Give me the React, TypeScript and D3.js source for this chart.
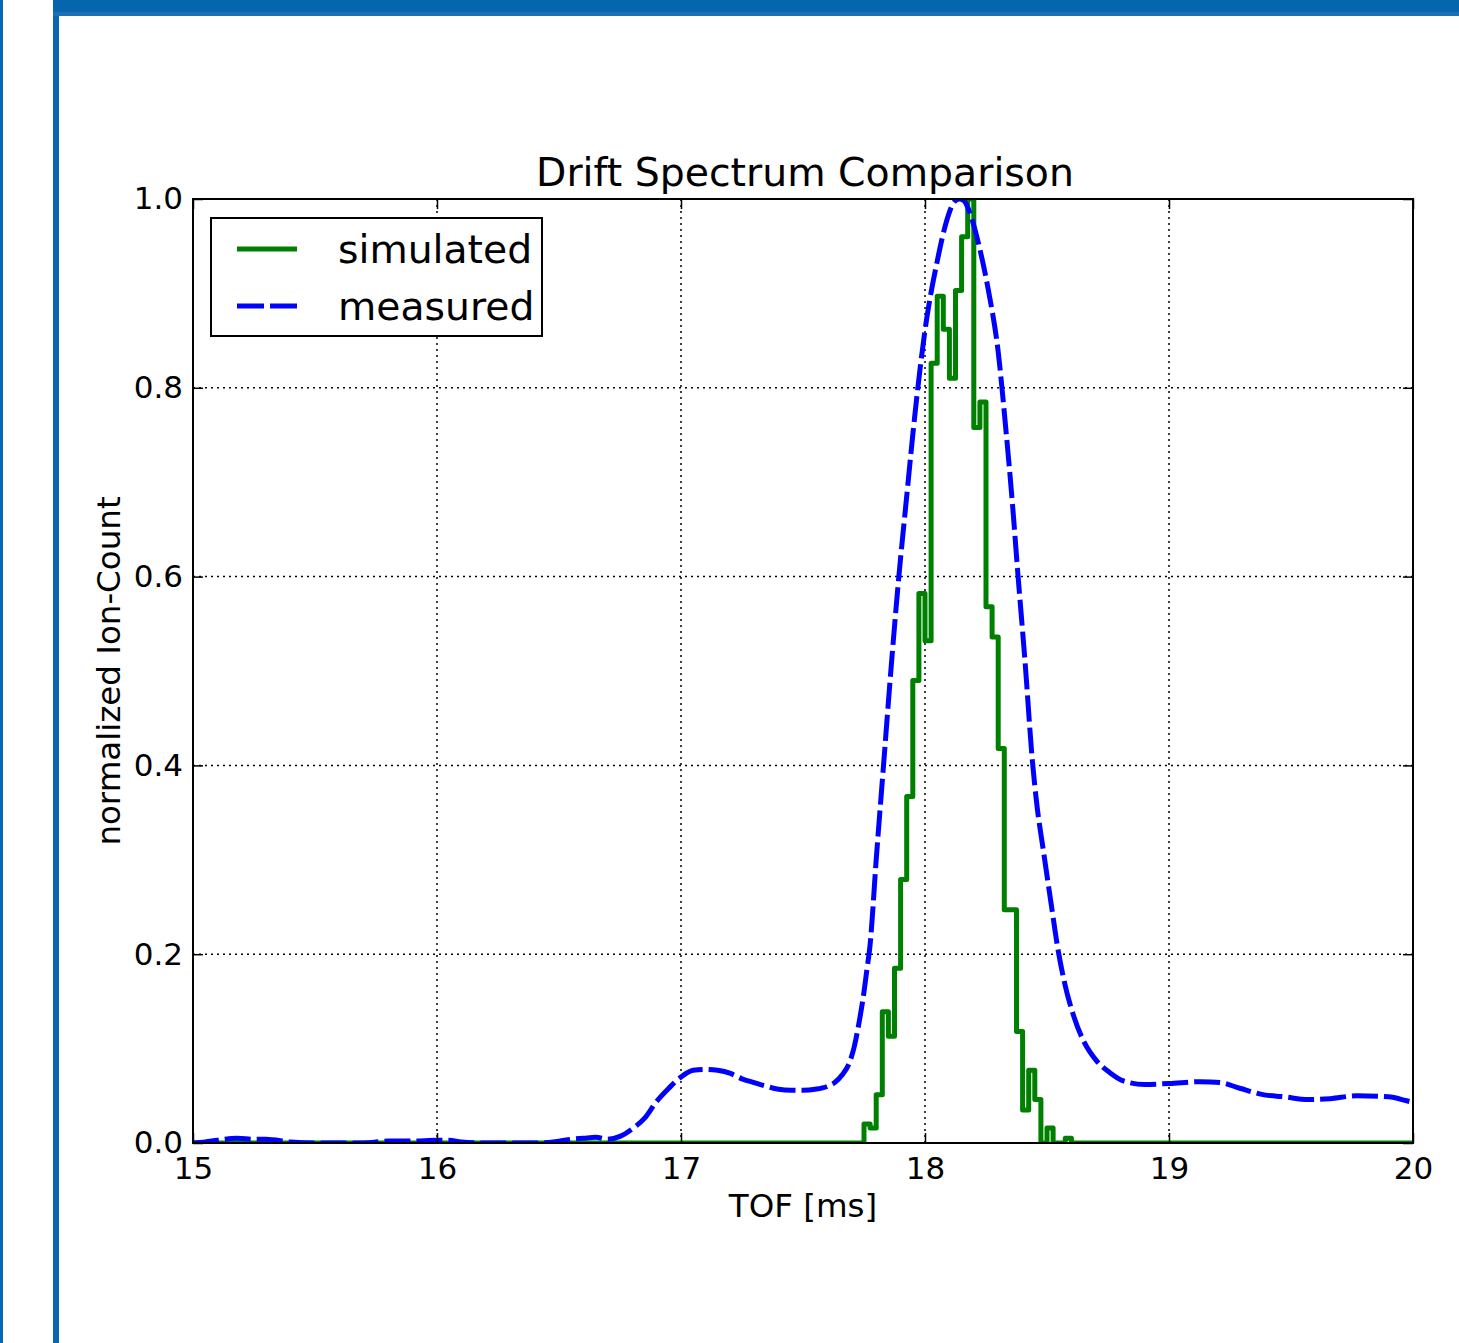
import { useEffect, useRef } from 'react';
import * as d3 from 'd3';

// ---- data ----
const xTicks = [15, 16, 17, 18, 19, 20];
const yTicks = [0, 0.2, 0.4, 0.6, 0.8, 1.0];

// simulated histogram: left edge of each 0.025 ms bin and its count
const simBinStart = [
  17.75, 17.775, 17.8, 17.825, 17.85, 17.875, 17.9, 17.925, 17.95, 17.975,
  18.0, 18.025, 18.05, 18.075, 18.1, 18.125, 18.15, 18.175, 18.2, 18.225,
  18.25, 18.275, 18.3, 18.325, 18.35, 18.375, 18.4, 18.425, 18.45, 18.475,
  18.5, 18.525, 18.55, 18.575, 18.6,
];
const simCount = [
  0.02, 0.016, 0.051, 0.139, 0.113, 0.185, 0.279, 0.367, 0.49, 0.582,
  0.532, 0.826, 0.897, 0.862, 0.81, 0.903, 0.96, 1.0, 0.758, 0.785,
  0.568, 0.536, 0.418, 0.247, 0.247, 0.118, 0.035, 0.077, 0.046, 0.0,
  0.016, 0.0, 0.0, 0.005, 0.0,
];

// measured spectrum
const measTof = [
  15.0, 15.05, 15.1, 15.18, 15.25, 15.3, 15.4, 15.5, 15.6, 15.7,
  15.8, 15.9, 16.0, 16.05, 16.1, 16.2, 16.3, 16.4, 16.5, 16.55,
  16.6, 16.65, 16.7, 16.75, 16.8, 16.85, 16.9, 16.95, 17.0, 17.05,
  17.1, 17.15, 17.2, 17.25, 17.3, 17.35, 17.4, 17.45, 17.5, 17.55,
  17.6, 17.63, 17.66, 17.69, 17.71, 17.73, 17.75, 17.76, 17.775, 17.8,
  17.83, 17.86, 17.89, 17.925, 17.96, 18.0, 18.05, 18.09, 18.12, 18.14,
  18.16, 18.18, 18.22, 18.26, 18.3, 18.33, 18.36, 18.38, 18.41, 18.44,
  18.46, 18.485, 18.52, 18.545, 18.57, 18.61, 18.65, 18.7, 18.76, 18.81,
  18.9, 19.0, 19.13, 19.21, 19.29, 19.39, 19.47, 19.57, 19.66, 19.77,
  19.9, 19.97, 20.0,
];
const measCount = [
  0.0, 0.001, 0.003, 0.005, 0.004, 0.004, 0.001, 0.0, 0.0, 0.0,
  0.002, 0.002, 0.003, 0.003, 0.001, 0.0, 0.0, 0.0, 0.002, 0.004,
  0.005, 0.006, 0.004, 0.007, 0.015, 0.026, 0.044, 0.058, 0.07, 0.077,
  0.078, 0.077, 0.074, 0.068, 0.064, 0.06, 0.057, 0.056, 0.056, 0.057,
  0.06, 0.064, 0.072, 0.085, 0.102, 0.128, 0.16, 0.18, 0.21, 0.3,
  0.4, 0.5, 0.592, 0.685, 0.775, 0.861, 0.934, 0.978, 0.997, 1.0,
  0.998, 0.988, 0.952, 0.903, 0.838, 0.76, 0.672, 0.605, 0.51, 0.405,
  0.355, 0.31, 0.248, 0.205, 0.172, 0.134, 0.108, 0.088, 0.074, 0.066,
  0.062, 0.063, 0.065, 0.064, 0.058, 0.051, 0.049, 0.046, 0.047, 0.05,
  0.049, 0.045, 0.043,
];

const seriesNames = ['simulated', 'measured'];

const W = 1459;
const H = 1343;
const FONT = "'DejaVu Sans', sans-serif";

const DriftChart = () => {
  const svgRef = useRef<SVGSVGElement>(null);

  useEffect(() => {
    const svg = d3.select(svgRef.current);
    svg.selectAll('*').remove();

    const left = 193, right = 1413, top = 199, bottom = 1143;

    const x = d3.scaleLinear().domain([15, 20]).range([left, right]);
    const y = d3.scaleLinear().domain([0, 1]).range([bottom, top]);

    // page frame bars
    svg.append('rect').attr('x', 0).attr('y', 0).attr('width', 3).attr('height', H).attr('fill', '#0767b0');
    svg.append('rect').attr('x', 53).attr('y', 0).attr('width', 6).attr('height', H).attr('fill', '#0767b0');
    svg.append('rect').attr('x', 53).attr('y', 0).attr('width', W - 53).attr('height', 12).attr('fill', '#0565ad');
    svg.append('rect').attr('x', 53).attr('y', 12).attr('width', W - 53).attr('height', 4).attr('fill', '#1a70b4');

    // grid
    const grid = svg.append('g')
      .attr('stroke', '#000')
      .attr('stroke-width', 1.5)
      .attr('stroke-dasharray', '2,4');
    grid.selectAll('.gx')
      .data(xTicks.slice(1, -1))
      .enter()
      .append('line')
      .attr('x1', (d) => x(d)).attr('x2', (d) => x(d))
      .attr('y1', top).attr('y2', bottom);
    grid.selectAll('.gy')
      .data(yTicks.slice(1, -1))
      .enter()
      .append('line')
      .attr('x1', left).attr('x2', right)
      .attr('y1', (d) => y(d)).attr('y2', (d) => y(d));

    // clip
    svg.append('clipPath').attr('id', 'plotclip')
      .append('rect')
      .attr('x', left).attr('y', top)
      .attr('width', right - left).attr('height', bottom - top);

    const plot = svg.append('g').attr('clip-path', 'url(#plotclip)');

    // simulated (steps)
    const simPts: [number, number][] = [[15, 0]];
    simBinStart.forEach((t, i) => simPts.push([t, simCount[i]]));
    simPts.push([20, 0]);

    const stepLine = d3.line<[number, number]>()
      .x((d) => x(d[0]))
      .y((d) => y(d[1]))
      .curve(d3.curveStepAfter);

    plot.append('path')
      .attr('d', stepLine(simPts))
      .attr('fill', 'none')
      .attr('stroke', '#008000')
      .attr('stroke-width', 5)
      .attr('stroke-linejoin', 'round');

    // measured (dashed)
    const measLine = d3.line<number>()
      .x((d, i) => x(measTof[i]))
      .y((d) => y(d))
      .curve(d3.curveMonotoneX);

    plot.append('path')
      .attr('d', measLine(measCount))
      .attr('fill', 'none')
      .attr('stroke', '#0000ff')
      .attr('stroke-width', 5)
      .attr('stroke-dasharray', '26,6')
      .attr('stroke-linecap', 'butt');

    // axes (ticks inward, classic style)
    const styleAxis = (g) => {
      g.select('.domain').remove();
      g.selectAll('line').attr('stroke', '#000').attr('stroke-width', 1.5);
      g.selectAll('text')
        .style('font-family', FONT)
        .style('font-size', '31px')
        .attr('fill', '#000');
    };

    svg.append('g')
      .attr('transform', `translate(0,${bottom})`)
      .call(d3.axisBottom(x).tickValues(xTicks).tickSize(-10).tickPadding(14).tickFormat(d3.format('d')))
      .call(styleAxis);

    svg.append('g')
      .attr('transform', `translate(0,${top})`)
      .call(d3.axisTop(x).tickValues(xTicks).tickSize(-10).tickFormat(() => ''))
      .call(styleAxis);

    svg.append('g')
      .attr('transform', `translate(${left},0)`)
      .call(d3.axisLeft(y).tickValues(yTicks).tickSize(-10).tickPadding(10).tickFormat(d3.format('.1f')))
      .call(styleAxis);

    svg.append('g')
      .attr('transform', `translate(${right},0)`)
      .call(d3.axisRight(y).tickValues(yTicks).tickSize(-10).tickFormat(() => ''))
      .call(styleAxis);

    // spines
    svg.append('rect')
      .attr('x', left).attr('y', top)
      .attr('width', right - left).attr('height', bottom - top)
      .attr('fill', 'none')
      .attr('stroke', '#000')
      .attr('stroke-width', 2);

    // titles
    svg.append('text')
      .attr('x', 805)
      .attr('y', 186)
      .attr('text-anchor', 'middle')
      .style('font-family', FONT)
      .style('font-size', '39.4px')
      .text('Drift Spectrum Comparison');

    svg.append('text')
      .attr('x', (left + right) / 2)
      .attr('y', 1217)
      .attr('text-anchor', 'middle')
      .style('font-family', FONT)
      .style('font-size', '32.5px')
      .text('TOF [ms]');

    svg.append('text')
      .attr('transform', `translate(120,${(top + bottom) / 2}) rotate(-90)`)
      .attr('text-anchor', 'middle')
      .style('font-family', FONT)
      .style('font-size', '32.5px')
      .text('normalized Ion-Count');

    // legend
    const legend = svg.append('g');
    legend.append('rect')
      .attr('x', 211).attr('y', 218)
      .attr('width', 331).attr('height', 118)
      .attr('fill', '#fff')
      .attr('stroke', '#000')
      .attr('stroke-width', 2);

    const rows = [
      { name: seriesNames[0], color: '#008000', dash: null, y: 249, ty: 263 },
      { name: seriesNames[1], color: '#0000ff', dash: '27,6', y: 306, ty: 320 },
    ];
    rows.forEach((r) => {
      legend.append('line')
        .attr('x1', 237).attr('x2', 297)
        .attr('y1', r.y).attr('y2', r.y)
        .attr('stroke', r.color)
        .attr('stroke-width', 5)
        .attr('stroke-dasharray', r.dash);
      legend.append('text')
        .attr('x', 338).attr('y', r.ty)
        .style('font-family', FONT)
        .style('font-size', '39.3px')
        .text(r.name);
    });
  }, []);

  return <svg ref={svgRef} width={W} height={H} style={{ display: 'block', background: '#fff' }}></svg>;
};

export default function App() {
  return (
    <div style={{ position: 'absolute', left: 0, top: 0, width: W, height: H, background: '#fff' }}>
      <DriftChart />
    </div>
  );
}
